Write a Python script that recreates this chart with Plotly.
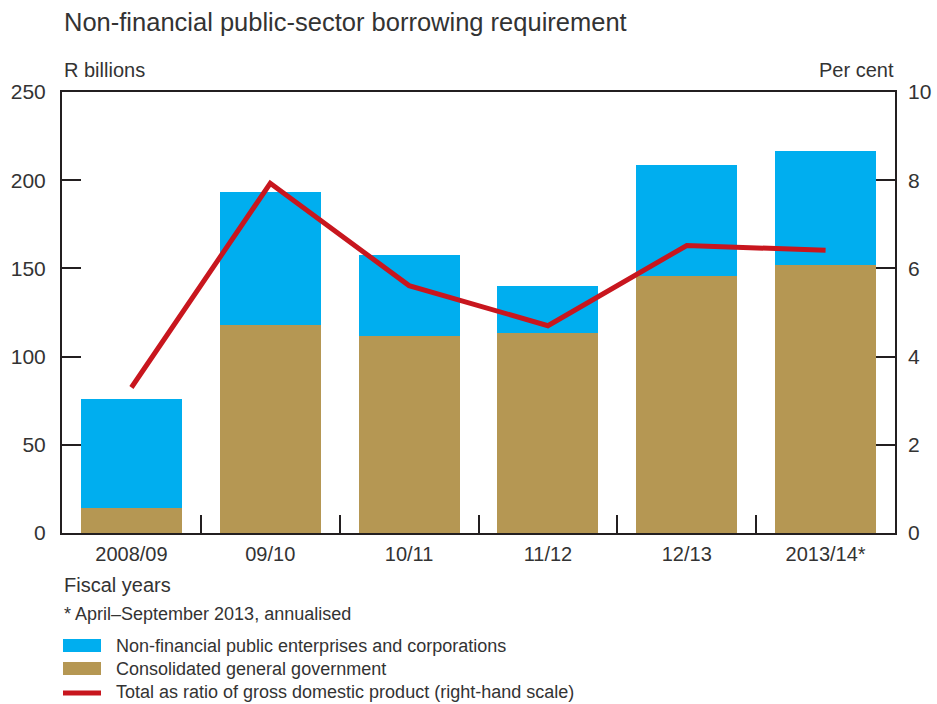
import plotly.graph_objects as go

categories = ["2008/09", "09/10", "10/11", "11/12", "12/13", "2013/14*"]
government = [14.2, 118.2, 111.9, 113.6, 145.5, 151.7]
enterprises_total = [76.1, 193.2, 157.4, 140.3, 208.5, 216.5]
enterprises = [round(t - g, 1) for t, g in zip(enterprises_total, government)]
gdp_ratio = [3.3, 7.93, 5.61, 4.7, 6.52, 6.41]

left_ticks = [0, 50, 100, 150, 200, 250]
right_ticks = [0, 2, 4, 6, 8, 10]

names = [
    "Non-financial public enterprises and corporations",
    "Consolidated general government",
    "Total as ratio of gross domestic product (right-hand scale)",
]
title = "Non-financial public-sector borrowing requirement"
footnote = "* April\u2013September 2013, annualised"

BLUE = "#00AEEF"
TAN = "#B59753"
RED = "#C8161E"
INK = "#231F20"
TXT = "#333333"
FONT = "Liberation Sans"

fig = go.Figure()
fig.add_trace(go.Bar(x=categories, y=government, name=names[1], marker_color=TAN,
                     marker_line_width=0, showlegend=False))
fig.add_trace(go.Bar(x=categories, y=enterprises, name=names[0], marker_color=BLUE,
                     marker_line_width=0, showlegend=False))
fig.add_trace(go.Scatter(x=categories, y=gdp_ratio, name=names[2], mode="lines",
                         line=dict(color=RED, width=5), yaxis="y2", showlegend=False))

W, H = 937, 704
L, R, T, B = 62, 895, 92, 533
pw, ph = R - L, B - T

def px(x):
    return (x - L) / pw

def py(y):
    return (B - y) / ph

TICKFONT = dict(size=21, color=TXT)

fig.update_layout(
    width=W, height=H,
    margin=dict(l=L, r=W - R, t=T, b=H - B, autoexpand=False),
    paper_bgcolor="white", plot_bgcolor="white",
    barmode="stack", bargap=0.272,
    font=dict(family=FONT, size=18, color=TXT),
    xaxis=dict(showgrid=False, showline=True, linecolor=INK, linewidth=2, mirror=True,
               ticks="inside", tickson="boundaries", ticklen=18, tickwidth=2, tickcolor=INK,
               ticklabelstandoff=2, tickfont=dict(size=20, color=TXT), automargin=False),
    yaxis=dict(range=[0, 250], tickvals=left_ticks, showgrid=False, zeroline=False,
               showline=True, linecolor=INK, linewidth=2, mirror=True,
               ticks="inside", ticklen=19, tickwidth=2, tickcolor=INK,
               ticklabelstandoff=10, tickfont=TICKFONT, automargin=False),
    yaxis2=dict(range=[0, 10], tickvals=right_ticks, overlaying="y", side="right",
                showgrid=False, zeroline=False, showline=False,
                ticks="inside", ticklen=19, tickwidth=2, tickcolor=INK,
                ticklabelstandoff=12, tickfont=TICKFONT, automargin=False),
)

ann = [
    dict(text=title, x=px(62), y=py(22), xanchor="left", yanchor="middle", font=dict(size=25.5)),
    dict(text="R billions", x=px(62), y=py(70), xanchor="left", yanchor="middle", font=dict(size=20)),
    dict(text="Per cent", x=px(896), y=py(70), xanchor="right", yanchor="middle", font=dict(size=20)),
    dict(text="Fiscal years", x=px(62), y=py(585), xanchor="left", yanchor="middle", font=dict(size=20)),
    dict(text=footnote, x=px(62), y=py(614), xanchor="left", yanchor="middle", font=dict(size=18)),
    dict(text=names[0], x=px(114), y=py(646), xanchor="left", yanchor="middle", font=dict(size=18)),
    dict(text=names[1], x=px(114), y=py(669), xanchor="left", yanchor="middle", font=dict(size=18)),
    dict(text=names[2], x=px(114), y=py(692), xanchor="left", yanchor="middle", font=dict(size=18)),
]
for a in ann:
    a.update(xref="paper", yref="paper", showarrow=False)
    fig.add_annotation(**a)

fig.add_shape(type="rect", xref="paper", yref="paper", x0=px(63), x1=px(101), y0=py(652), y1=py(639),
              fillcolor=BLUE, line_width=0)
fig.add_shape(type="rect", xref="paper", yref="paper", x0=px(63), x1=px(101), y0=py(675), y1=py(662),
              fillcolor=TAN, line_width=0)
fig.add_shape(type="line", xref="paper", yref="paper", x0=px(63), x1=px(101), y0=py(693), y1=py(693),
              line=dict(color=RED, width=5))

fig.write_html("out.html", config={"displayModeBar": False},
               post_script="document.body.style.margin='0';document.body.style.overflow='hidden';")
